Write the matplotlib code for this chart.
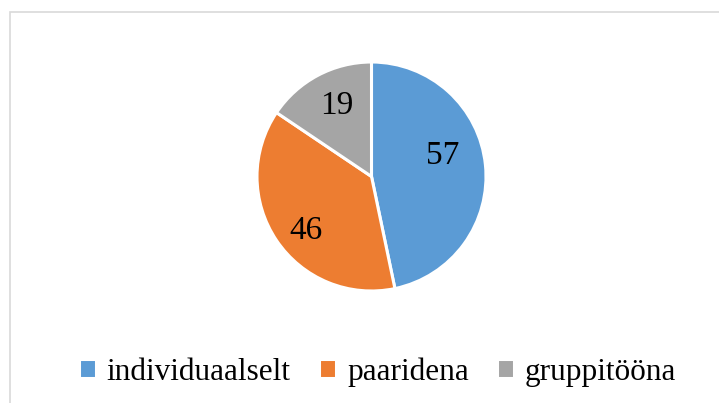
import matplotlib
matplotlib.use("Agg")
import matplotlib.pyplot as plt
from matplotlib.patches import Rectangle
import numpy as np

categories = ["individuaalselt", "paaridena", "gruppitööna"]
values = [57, 46, 19]
colors = ["#5B9BD5", "#ED7D31", "#A5A5A5"]

W, H = 719, 403
fig = plt.figure(figsize=(W / 100, H / 100), dpi=100)
plt.rcParams['font.family'] = ['Liberation Serif', 'DejaVu Serif']

# chart border (light gray, left and top visible)
fig.patches.append(Rectangle((9.5 / W, -0.2), 1.2, (H - 11.5) / H + 0.2,
                             transform=fig.transFigure, fill=False,
                             edgecolor="#d9d9d9", linewidth=1.2))

cx, cy, r = 371.5, 176.5, 114.5
ax = fig.add_axes([(cx - r) / W, (H - cy - r) / H, 2 * r / W, 2 * r / H])
wedges, _ = ax.pie(values, colors=colors, startangle=90, counterclock=False,
                   radius=1.0,
                   wedgeprops=dict(edgecolor="white", linewidth=2.2))
ax.set_xlim(-1.0, 1.0)
ax.set_ylim(-1.0, 1.0)
ax.set_aspect("auto")
ax.axis("off")

# data labels (positions in pie units)
label_pos = [(0.62, 0.18), (-0.57, -0.47), (-0.30, 0.62)]
for v, (lx, ly) in zip(values, label_pos):
    ax.text(lx, ly, str(v), ha="center", va="center", fontsize=24, color="black")

leg = fig.legend(wedges, categories, loc="center", bbox_to_anchor=(0.525, (H - 372) / H),
                 ncol=3, frameon=False, fontsize=22.5, handlelength=0.55,
                 handleheight=0.55, handletextpad=0.35, columnspacing=0.9)

fig.savefig("out.png", dpi=100)
